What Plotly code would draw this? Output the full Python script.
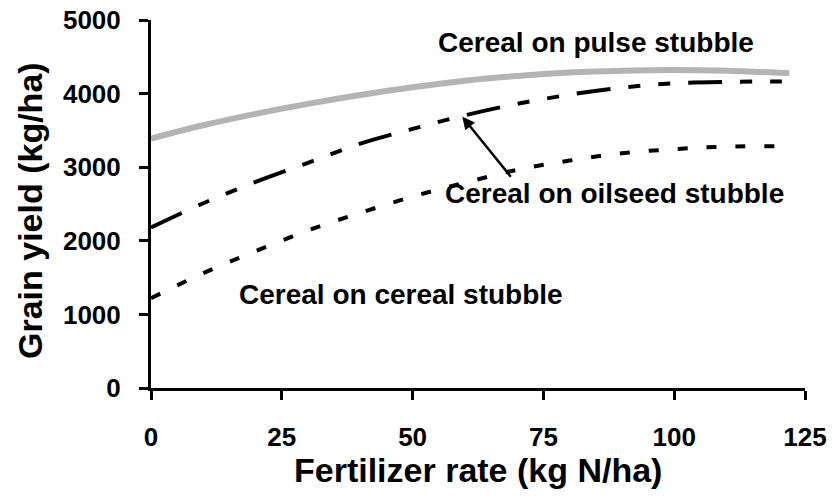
import plotly.graph_objects as go

# Fertilizer rate (kg N/ha)
n_rate = [0, 10, 20, 30, 40, 50, 60, 70, 80, 90, 100, 110, 122]

# Grain yield (kg/ha)
pulse_yield = [3390, 3570, 3725, 3860, 3980, 4085, 4175, 4240, 4285, 4310, 4320, 4310, 4275]
oilseed_yield = [2180, 2510, 2800, 3060, 3320, 3520, 3705, 3860, 3985, 4080, 4140, 4160, 4165]
cereal_yield = [1220, 1560, 1860, 2140, 2380, 2600, 2790, 2965, 3090, 3190, 3245, 3280, 3285]

x_ticks = [0, 25, 50, 75, 100, 125]
y_ticks = [0, 1000, 2000, 3000, 4000, 5000]

labels = ["Cereal on pulse stubble", "Cereal on oilseed stubble", "Cereal on cereal stubble"]
x_title = "Fertilizer rate (kg N/ha)"
y_title = "Grain yield (kg/ha)"

FONT = "Arial, 'Liberation Sans', Helvetica, sans-serif"

fig = go.Figure()
fig.add_trace(go.Scatter(x=n_rate, y=pulse_yield, mode="lines", line_shape="spline",
                         line=dict(color="#b4b4b4", width=6), name=labels[0]))
fig.add_trace(go.Scatter(x=n_rate, y=oilseed_yield, mode="lines", line_shape="spline",
                         line=dict(color="black", width=4, dash="34px,18px,12px,18px,12px,18px"),
                         name=labels[1]))
fig.add_trace(go.Scatter(x=n_rate, y=cereal_yield, mode="lines", line_shape="spline",
                         line=dict(color="black", width=4, dash="10px,19px"), name=labels[2]))

ann_font = dict(family=FONT, size=28, color="black")
fig.add_annotation(x=85.0, y=4701, text="<b>%s</b>" % labels[0], showarrow=False, font=ann_font)
fig.add_annotation(x=88.5, y=2649, text="<b>%s</b>" % labels[1], showarrow=False, font=ann_font)
fig.add_annotation(x=47.8, y=1264, text="<b>%s</b>" % labels[2], showarrow=False, font=ann_font)
fig.add_annotation(x=59.5, y=3686, ax=69.0, ay=2849, axref="x", ayref="y", xref="x", yref="y",
                   text="", showarrow=True, arrowhead=2, arrowsize=1, arrowwidth=2.5, arrowcolor="black")

title_font = dict(family=FONT, size=34, color="black")
fig.add_annotation(xref="paper", yref="paper", x=0.5, y=-0.2228, text="<b>%s</b>" % x_title,
                   showarrow=False, font=title_font, xanchor="center", yanchor="middle")
fig.add_annotation(xref="paper", yref="paper", x=-0.185, y=0.481, text="<b>%s</b>" % y_title,
                   showarrow=False, font=title_font, textangle=-90, xanchor="center", yanchor="middle")

# page body has an 8px default margin, so the figure is sized/offset to compensate
fig.update_layout(
    width=829, height=496,
    margin=dict(l=143, r=32, t=12, b=116, autoexpand=False),
    paper_bgcolor="white", plot_bgcolor="white",
    showlegend=False,
    font=dict(family=FONT, color="black"),
)
fig.update_xaxes(range=[0, 125], tickvals=x_ticks, ticktext=["<b>%d</b>" % v for v in x_ticks],
                 automargin=False, ticklabeloverflow="allow",
                 showgrid=False, zeroline=False, showline=True, linecolor="black", linewidth=3,
                 ticks="outside", ticklen=9, tickwidth=3, tickcolor="black",
                 tickfont=dict(family=FONT, size=26, color="black"),
                 ticklabelstandoff=15)
fig.update_yaxes(range=[0, 5000], tickvals=y_ticks, ticktext=["<b>%d</b>" % v for v in y_ticks],
                 automargin=False, ticklabeloverflow="allow",
                 showgrid=False, zeroline=False, showline=True, linecolor="black", linewidth=3,
                 ticks="outside", ticklen=9, tickwidth=3, tickcolor="black",
                 tickfont=dict(family=FONT, size=26, color="black"),
                 ticklabelstandoff=13)

fig.write_html("out.html")
